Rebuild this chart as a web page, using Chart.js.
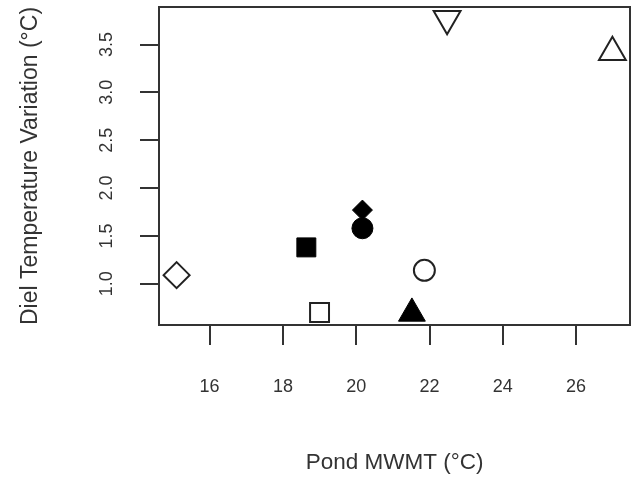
<!DOCTYPE html>
<html>
<head>
<meta charset="utf-8">
<script src="https://cdn.jsdelivr.net/npm/chart.js@4.4.0/dist/chart.umd.min.js"></script>
<style>
  html, body { margin: 0; padding: 0; overflow: hidden; background: #fff; }
  canvas { display: block; }
</style>
</head>
<body>
<canvas id="myChart" width="635" height="481"></canvas>
<script>
// one point per pond: mean weekly max temp vs diel range
var pondMwmt = [15.10, 18.64, 19.00, 20.17, 20.17, 21.86, 21.52, 22.48, 26.99];
var dielVariation = [1.09, 1.38, 0.70, 1.77, 1.58, 1.14, 0.69, 3.77, 3.42];
var xTicks = [16, 18, 20, 22, 24, 26];
var yTicks = [1.0, 1.5, 2.0, 2.5, 3.0, 3.5];
var yTickLabels = ['1.0', '1.5', '2.0', '2.5', '3.0', '3.5'];

// marker for each pond: shape, filled, radius, rotation
var markers = [
    ['rectRot', false, 13, 0],
    ['rect', true, 13.4, 0],
    ['rect', false, 13.4, 0],
    ['rectRot', true, 10, 0],
    ['circle', true, 10.5, 0],
    ['circle', false, 10.5, 0],
    ['triangle', true, 15.5, 0],
    ['triangle', false, 15.5, 180],
    ['triangle', false, 15.5, 0]
];

var ink = '#333';
var fontFamily = '"Liberation Sans", Arial, sans-serif';

var points = pondMwmt.map(function(x, i) {
    return { x: x, y: dielVariation[i] };
});

// box around the plot + rotated y labels (R style)
var framePlugin = {
    id: 'frame',
    afterDraw: function(chart) {
        var ctx = chart.ctx;
        var a = chart.chartArea;
        var yScale = chart.scales.y;
        ctx.save();
        ctx.strokeStyle = ink;
        ctx.lineWidth = 2;
        ctx.strokeRect(a.left, a.top, a.right - a.left, a.bottom - a.top);

        ctx.font = '18px ' + fontFamily;
        ctx.fillStyle = ink;
        ctx.textAlign = 'center';
        ctx.textBaseline = 'middle';
        yTicks.forEach(function(v, i) {
            ctx.save();
            ctx.translate(a.left - 52, yScale.getPixelForValue(v));
            ctx.rotate(-Math.PI / 2);
            ctx.fillText(yTickLabels[i], 0, 0);
            ctx.restore();
        });
        ctx.restore();
    }
};

var ctx = document.getElementById('myChart').getContext('2d');
var myChart = new Chart(ctx, {
    type: 'scatter',
    data: {
        datasets: [{
            data: points,
            pointStyle: markers.map(m => m[0]),
            pointRadius: markers.map(m => m[2]),
            pointRotation: markers.map(m => m[3]),
            pointBackgroundColor: markers.map(m => m[1] ? '#000' : '#fff'),
            pointBorderColor: markers.map(m => m[1] ? '#000' : '#222'),
            pointBorderWidth: markers.map(m => m[1] ? 1 : 2),
            pointHoverRadius: markers.map(m => m[2]),
            clip: false
        }]
    },
    options: {
        responsive: false,
        animation: false,
        layout: {
            autoPadding: false,
            padding: { top: 7, right: 5, bottom: 0, left: 0 }
        },
        plugins: {
            legend: { display: false },
            tooltip: { enabled: false }
        },
        scales: {
            x: {
                type: 'linear',
                min: 14.62,
                max: 27.47,
                afterBuildTicks: function(scale) {
                    scale.ticks = xTicks.map(v => ({ value: v }));
                },
                afterFit: function(scale) { scale.height = 156; },
                border: { display: false },
                grid: { drawOnChartArea: false, drawTicks: true, tickLength: 20, color: ink, lineWidth: 2 },
                ticks: { color: ink, padding: 31, font: { family: fontFamily, size: 18 } },
                title: {
                    display: true,
                    text: 'Pond MWMT (°C)',
                    color: ink,
                    font: { family: fontFamily, size: 22.5 },
                    padding: { top: 0, bottom: 5 }
                }
            },
            y: {
                type: 'linear',
                min: 0.569,
                max: 3.892,
                afterBuildTicks: function(scale) {
                    scale.ticks = yTicks.map(v => ({ value: v }));
                },
                afterFit: function(scale) { scale.width = 159; },
                border: { display: false },
                grid: { drawOnChartArea: false, drawTicks: true, tickLength: 19, color: ink, lineWidth: 2 },
                ticks: { display: false },
                title: {
                    display: true,
                    text: 'Diel Temperature Variation (°C)',
                    color: ink,
                    font: { family: fontFamily, size: 23 },
                    padding: { top: 17, bottom: 0 }
                }
            }
        }
    },
    plugins: [framePlugin]
});
</script>
</body>
</html>
